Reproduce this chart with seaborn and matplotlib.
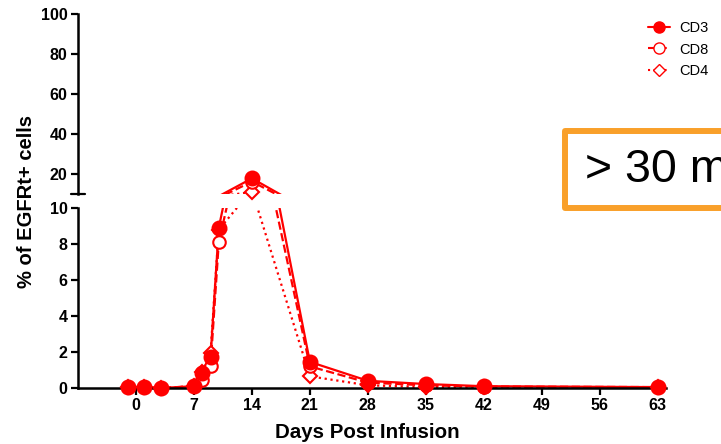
import matplotlib
matplotlib.use('Agg')
import matplotlib.pyplot as plt
import seaborn as sns
import pandas as pd
from matplotlib.lines import Line2D
from matplotlib.patches import Rectangle

sns.set_style('ticks')
plt.rcParams['font.family'] = ['Liberation Sans', 'DejaVu Sans']
for key in ['text.color', 'axes.labelcolor', 'xtick.color', 'ytick.color', 'axes.edgecolor']:
    plt.rcParams[key] = 'black'

# data
days = [-1, 1, 3, 7, 8, 9, 10, 14, 21, 28, 35, 42, 63]
cd3 = [0.05, 0.05, 0.0, 0.1, 0.85, 1.7, 8.9, 17.8, 1.45, 0.4, 0.22, 0.1, 0.05]
cd8 = [0.05, 0.05, 0.0, 0.1, 0.45, 1.2, 8.1, 16.2, 1.2, 0.3, 0.15, 0.08, 0.05]
cd4 = [0.05, 0.05, 0.0, 0.1, 0.9, 1.95, 8.8, 11.0, 0.65, 0.15, 0.05, 0.05, 0.05]
x_ticks = [0, 7, 14, 21, 28, 35, 42, 49, 56, 63]
low_ticks = [0, 2, 4, 6, 8, 10]
high_ticks = [20, 40, 60, 80, 100]

df = pd.DataFrame({
    'day': days * 3,
    'pct': cd4 + cd8 + cd3,
    'subset': ['CD4'] * len(days) + ['CD8'] * len(days) + ['CD3'] * len(days),
})

red = '#FF0000'
styles = {
    'CD4': dict(linestyle=':', marker='D', markerfacecolor='white', markersize=7.5),
    'CD8': dict(linestyle='--', marker='o', markerfacecolor='white', markersize=9),
    'CD3': dict(linestyle='-', marker='o', markerfacecolor=red, markersize=10),
}

fig = plt.figure(figsize=(7.21, 4.44), dpi=100)
W, H = 721, 444
ax_top = fig.add_axes([78 / W, 1 - 194 / H, 588 / W, 180 / H])
ax_bot = fig.add_axes([78 / W, 1 - 388 / H, 588 / W, 180 / H])

for ax, lo, hi in [(ax_top, 10, 100), (ax_bot, 0, 10)]:
    for name in ['CD4', 'CD8', 'CD3']:
        sub = df[df['subset'] == name]
        st = styles[name]
        # line, clipped to the panel
        sns.lineplot(data=sub, x='day', y='pct', ax=ax, color=red,
                     linestyle=st['linestyle'], linewidth=1.6, legend=False)
        # markers for the points inside this panel
        pts = sub[(sub['pct'] >= lo) & (sub['pct'] <= hi)]
        sns.lineplot(data=pts, x='day', y='pct', ax=ax, color=red, linestyle='none',
                     marker=st['marker'], markersize=st['markersize'],
                     markerfacecolor=st['markerfacecolor'], markeredgecolor=red,
                     markeredgewidth=1.5, clip_on=False, legend=False, zorder=3)
    ax.set_xlim(-7, 64)
    ax.set_ylim(lo, hi)
    ax.set_xlabel('')
    ax.set_ylabel('')
    for side in ['top', 'right']:
        ax.spines[side].set_visible(False)
    ax.spines['left'].set_linewidth(1.8)
    ax.tick_params(axis='both', width=1.6, length=5, labelsize=11.5, pad=2.5)

ax_top.spines['bottom'].set_visible(False)
ax_top.set_xticks([])
ax_top.set_yticks(high_ticks)
ax_top.set_yticklabels([str(t) for t in high_ticks], fontweight='bold')
# break mark at the bottom of the upper panel
ax_top.plot([-0.012, 0.012], [0, 0], transform=ax_top.transAxes, color='black',
            linewidth=1.6, clip_on=False)

ax_bot.spines['bottom'].set_linewidth(1.8)
ax_bot.set_xticks(x_ticks)
ax_bot.set_xticklabels([str(t) for t in x_ticks], fontweight='bold')
ax_bot.set_yticks(low_ticks)
ax_bot.set_yticklabels([str(t) for t in low_ticks], fontweight='bold')

fig.text(367 / W, 1 - 432 / H, 'Days Post Infusion', ha='center', va='center',
         fontsize=14.8, fontweight='bold')
fig.text(27 / W, 1 - 201 / H, '% of EGFRt+ cells', ha='center', va='center',
         rotation=90, fontsize=14.5, fontweight='bold')

# legend
handles = [
    Line2D([], [], color=red, linestyle='-', marker='o', markerfacecolor=red,
           markeredgecolor=red, markersize=8, linewidth=1.5),
    Line2D([], [], color=red, linestyle='--', marker='o', markerfacecolor='white',
           markeredgecolor=red, markersize=8, linewidth=1.5),
    Line2D([], [], color=red, linestyle=':', marker='D', markerfacecolor='white',
           markeredgecolor=red, markersize=6.5, linewidth=1.5),
]
fig.legend(handles, ['CD3', 'CD8', 'CD4'], loc='upper left',
           bbox_to_anchor=(641 / W, 1 - 14 / H), frameon=False, fontsize=10.5,
           handlelength=1.5, labelspacing=0.5, handletextpad=0.6, borderpad=0)

# orange call-out box
box = Rectangle((565 / W, 1 - 207.5 / H), 200 / W, 76 / H, transform=fig.transFigure,
                facecolor='white', edgecolor='#F9A02A', linewidth=4.3, zorder=5,
                joinstyle='round')
fig.add_artist(box)
fig.text(585 / W, 1 - 170 / H, '> 30 m', fontsize=33.5, va='center', ha='left', zorder=6)

fig.savefig('out.png', dpi=100)
